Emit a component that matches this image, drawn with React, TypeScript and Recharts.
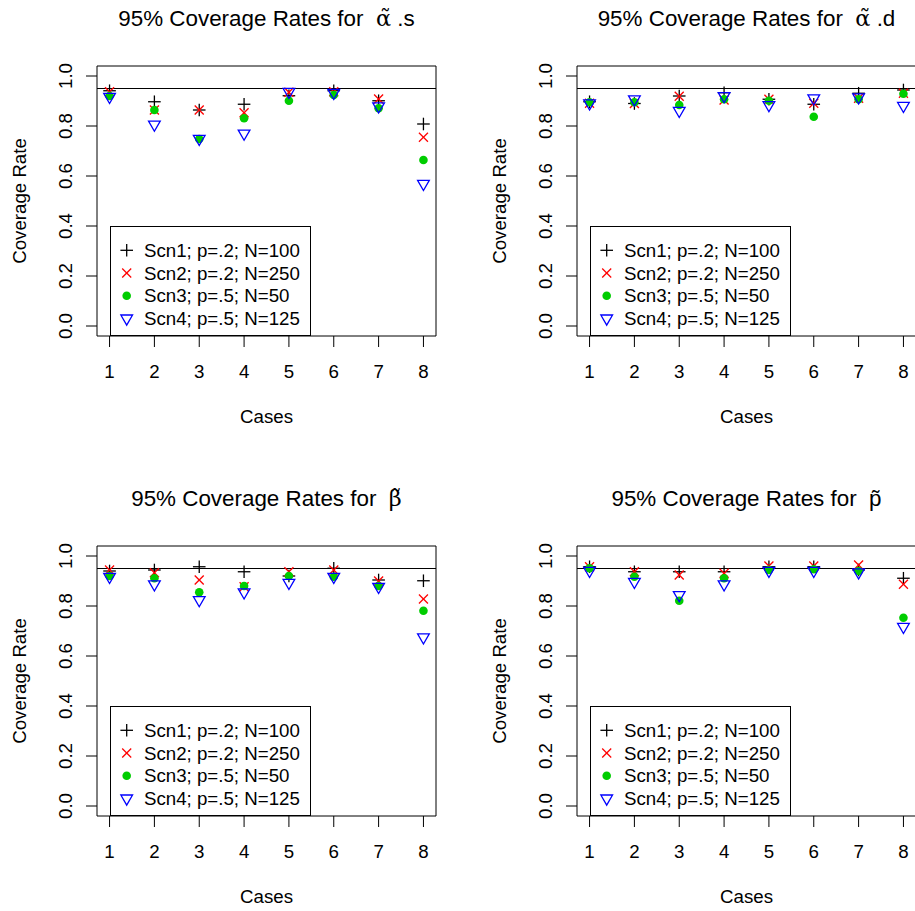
import React from 'react';
import { ScatterChart, Scatter, XAxis, YAxis, ReferenceLine, ReferenceArea, Legend } from 'recharts';

// ---------- data ----------
const cases = [1, 2, 3, 4, 5, 6, 7, 8];
const xTicks = [1, 2, 3, 4, 5, 6, 7, 8];
const yTicks = [0, 0.2, 0.4, 0.6, 0.8, 1.0];
const xDomain = [0.72, 8.28];
const yDomain = [-0.04, 1.04];
const nominalRate = 0.95;

const seriesNames = ['Scn1; p=.2; N=100', 'Scn2; p=.2; N=250', 'Scn3; p=.5; N=50', 'Scn4; p=.5; N=125'];

// alpha-tilde .s
const alphaS_scn1 = [0.941, 0.897, 0.864, 0.887, 0.921, 0.941, 0.901, 0.808];
const alphaS_scn2 = [0.937, 0.864, 0.864, 0.853, 0.935, 0.937, 0.908, 0.755];
const alphaS_scn3 = [0.920, 0.864, 0.748, 0.831, 0.901, 0.924, 0.871, 0.664];
const alphaS_scn4 = [0.917, 0.806, 0.749, 0.770, 0.937, 0.933, 0.879, 0.569];

// alpha-tilde .d
const alphaD_scn1 = [0.897, 0.890, 0.920, 0.933, 0.907, 0.887, 0.931, 0.944];
const alphaD_scn2 = [0.891, 0.890, 0.919, 0.904, 0.907, 0.891, 0.911, 0.931];
const alphaD_scn3 = [0.895, 0.895, 0.884, 0.907, 0.901, 0.837, 0.907, 0.929];
const alphaD_scn4 = [0.891, 0.907, 0.861, 0.920, 0.884, 0.911, 0.915, 0.881];

// beta-tilde
const beta_scn1 = [0.940, 0.944, 0.957, 0.937, 0.920, 0.951, 0.904, 0.901];
const beta_scn2 = [0.944, 0.933, 0.904, 0.877, 0.937, 0.944, 0.900, 0.828];
const beta_scn3 = [0.920, 0.911, 0.855, 0.880, 0.920, 0.917, 0.880, 0.781];
const beta_scn4 = [0.917, 0.887, 0.824, 0.855, 0.893, 0.917, 0.877, 0.675];

// p-tilde
const p_scn1 = [0.957, 0.937, 0.937, 0.937, 0.957, 0.957, 0.944, 0.911];
const p_scn2 = [0.957, 0.937, 0.924, 0.931, 0.960, 0.960, 0.964, 0.887];
const p_scn3 = [0.951, 0.917, 0.821, 0.911, 0.944, 0.947, 0.940, 0.753];
const p_scn4 = [0.941, 0.897, 0.844, 0.887, 0.941, 0.941, 0.935, 0.717];

// ---------- styling ----------
const FONT = '"Liberation Sans", Arial, Helvetica, sans-serif';
const GREEK = '"DejaVu Serif", "Liberation Serif", serif';
const BASE = 18.7;
const TITLE = 22.4;
const COLORS = ['#000000', '#FF0000', '#00CD00', '#0000FF'];

const PW = 480;
const PH = 480;
const PLOT_L = 97;
const PLOT_R = 436;
const PLOT_T = 66;
const PLOT_B = 336;
const CX = (PLOT_L + PLOT_R) / 2;
const CY = (PLOT_T + PLOT_B) / 2;

const plusShape = (p: any) => {
  const { cx, cy } = p;
  const h = 6.3;
  return (
    <g>
      <line x1={cx - h} x2={cx + h} y1={cy} y2={cy} stroke={COLORS[0]} strokeWidth={1.3} />
      <line x1={cx} x2={cx} y1={cy - h} y2={cy + h} stroke={COLORS[0]} strokeWidth={1.3} />
    </g>
  );
};
const crossShape = (p: any) => {
  const { cx, cy } = p;
  const h = 4.5;
  return (
    <g>
      <line x1={cx - h} x2={cx + h} y1={cy - h} y2={cy + h} stroke={COLORS[1]} strokeWidth={1.3} />
      <line x1={cx - h} x2={cx + h} y1={cy + h} y2={cy - h} stroke={COLORS[1]} strokeWidth={1.3} />
    </g>
  );
};
const dotShape = (p: any) => {
  const { cx, cy } = p;
  return <circle cx={cx} cy={cy} r={4.3} fill={COLORS[2]} />;
};
const triShape = (p: any) => {
  const { cx, cy } = p;
  const pts = `${cx - 5.85},${cy - 3.38} ${cx + 5.85},${cy - 3.38} ${cx},${cy + 6.75}`;
  return <polygon points={pts} fill="none" stroke={COLORS[3]} strokeWidth={1.3} />;
};
const shapes = [plusShape, crossShape, dotShape, triShape];

const YTick = (props: any) => {
  const { x, y, payload } = props;
  return (
    <text x={x} y={y} transform={`rotate(-90, ${x}, ${y})`} textAnchor="middle" fontFamily={FONT} fontSize={BASE} fill="#000">
      {Number(payload.value).toFixed(1)}
    </text>
  );
};
const XTick = (props: any) => {
  const { x, y, payload } = props;
  return (
    <text x={x} y={y} textAnchor="middle" fontFamily={FONT} fontSize={BASE} fill="#000">
      {payload.value}
    </text>
  );
};

const LegendBox = () => (
  <div style={{ width: 201, height: 110, border: '1px solid #000', boxSizing: 'border-box', background: '#fff' }}>
    <svg width={199} height={108} style={{ display: 'block' }}>
      {seriesNames.map((name, i) => {
        const base = 30 + i * 22.7;
        const cy = base - 6.7;
        const S = shapes[i];
        return (
          <g key={name}>
            {S({ cx: 15.7, cy })}
            <text x={33} y={base} fontFamily={FONT} fontSize={BASE} fill="#000">{name}</text>
          </g>
        );
      })}
    </svg>
  </div>
);

type PanelProps = { title: React.ReactNode; series: number[][]; left: number; top: number };

const Panel = ({ title, series, left, top }: PanelProps) => {
  const datasets = series.map((vals) => cases.map((c, i) => ({ caseNo: c, rate: vals[i] })));
  return (
    <div style={{ position: 'absolute', left, top, width: PW, height: PH }}>
      <ScatterChart width={PW} height={PH} margin={{ top: PLOT_T, right: PW - PLOT_R, bottom: 0, left: 0 }}>
        <XAxis
          type="number"
          dataKey="caseNo"
          domain={xDomain}
          ticks={xTicks}
          allowDataOverflow
          height={PH - PLOT_B}
          axisLine={false}
          tickLine={{ stroke: '#000', strokeWidth: 1 }}
          tickSize={11}
          tickMargin={31}
          tick={<XTick />}
          interval={0}
        />
        <YAxis
          type="number"
          dataKey="rate"
          domain={yDomain}
          ticks={yTicks}
          allowDataOverflow
          width={PLOT_L}
          axisLine={false}
          tickLine={{ stroke: '#000', strokeWidth: 1 }}
          tickSize={11}
          tickMargin={14}
          tick={<YTick />}
          interval={0}
        />
        <ReferenceArea x1={xDomain[0]} x2={xDomain[1]} y1={yDomain[0]} y2={yDomain[1]} fill="none" stroke="#000" strokeWidth={1} fillOpacity={0} />
        <ReferenceLine y={nominalRate} stroke="#000" strokeWidth={1} />
        {datasets.map((d, i) => (
          <Scatter key={i} name={seriesNames[i]} data={d} fill={COLORS[i]} shape={shapes[i]} isAnimationActive={false} />
        ))}
        <Legend
          layout="vertical"
          align="center"
          verticalAlign="middle"
          wrapperStyle={{ left: 110, top: 226, width: 201, height: 110 }}
          content={() => <LegendBox />}
        />
        <text x={CX} y={26} textAnchor="middle" fontFamily={FONT} fontSize={TITLE} fill="#000" style={{ whiteSpace: 'pre' }}>
          {title}
        </text>
        <text x={CX} y={423} textAnchor="middle" fontFamily={FONT} fontSize={BASE} fill="#000">Cases</text>
        <text x={26} y={CY} textAnchor="middle" transform={`rotate(-90, 26, ${CY})`} fontFamily={FONT} fontSize={BASE} fill="#000">Coverage Rate</text>
      </ScatterChart>
    </div>
  );
};

export default function App() {
  return (
    <div style={{ position: 'absolute', left: 0, top: 0, width: 915, height: 911, overflow: 'hidden', background: '#fff' }}>
      <Panel
        left={0}
        top={0}
        title={<>{'95% Coverage Rates for  '}<tspan fontFamily={GREEK}>{'\u03B1\u0303'}</tspan>{' .s'}</>}
        series={[alphaS_scn1, alphaS_scn2, alphaS_scn3, alphaS_scn4]}
      />
      <Panel
        left={480}
        top={0}
        title={<>{'95% Coverage Rates for  '}<tspan fontFamily={GREEK}>{'\u03B1\u0303'}</tspan>{' .d'}</>}
        series={[alphaD_scn1, alphaD_scn2, alphaD_scn3, alphaD_scn4]}
      />
      <Panel
        left={0}
        top={480}
        title={<>{'95% Coverage Rates for  '}<tspan fontFamily={GREEK}>{'\u03B2\u0303'}</tspan></>}
        series={[beta_scn1, beta_scn2, beta_scn3, beta_scn4]}
      />
      <Panel
        left={480}
        top={480}
        title={<>{'95% Coverage Rates for  '}{'p\u0303'}</>}
        series={[p_scn1, p_scn2, p_scn3, p_scn4]}
      />
    </div>
  );
}
